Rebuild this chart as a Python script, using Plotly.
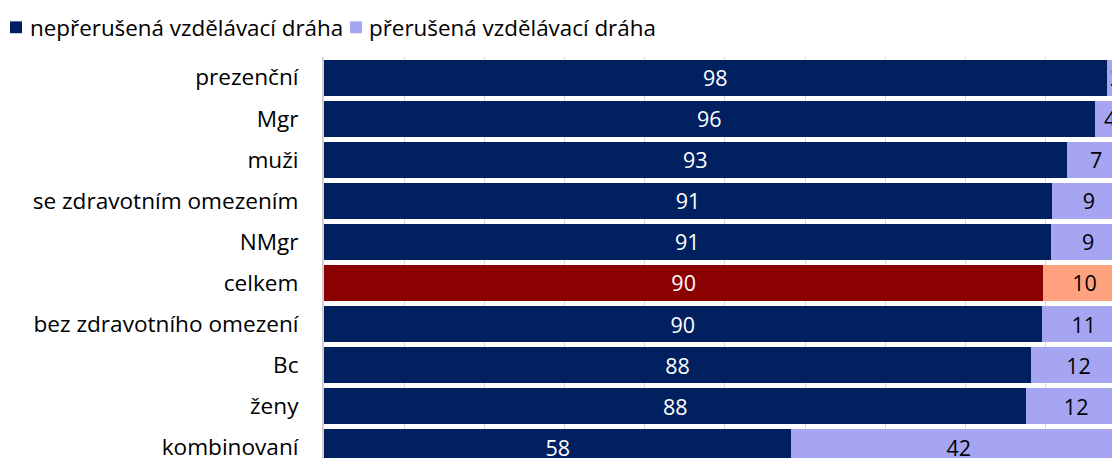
import plotly.graph_objects as go

categories = ["prezenční", "Mgr", "muži", "se zdravotním omezením", "NMgr",
              "celkem", "bez zdravotního omezení", "Bc", "ženy", "kombinovaní"]
neprerusena = [97.6, 96.1, 92.6, 90.8, 90.6, 89.7, 89.5, 88.2, 87.6, 58.3]
prerusena = [2.4, 3.9, 7.4, 9.2, 9.4, 10.3, 10.5, 11.8, 12.4, 41.7]
series_names = ["nepřerušená vzdělávací dráha", "přerušená vzdělávací dráha"]
highlight = "celkem"

NAVY, LAVENDER, RED, SALMON = "#002060", "#A5A5F2", "#8B0000", "#FFA27F"
FONT = "Open Sans"
FS = 21.5
FS_AX = 22.6
FS_LEG = 22.4

W, H = 1112, 462
ML, MT = 324, 57
PW, PH = W - ML, H - MT


def lab(v):
    return [str(int(x + 0.5)) for x in v]


def px_x(p):
    return (p - ML) / PW


def px_y(p):
    return (H - p) / PH


dark_colors = [RED if c == highlight else NAVY for c in categories]
light_colors = [SALMON if c == highlight else LAVENDER for c in categories]

fig = go.Figure()
fig.add_trace(go.Bar(
    y=categories, x=neprerusena, orientation="h", name=series_names[0],
    marker=dict(color=dark_colors, line=dict(width=0)),
    text=lab(neprerusena), textposition="inside", insidetextanchor="middle",
    textfont=dict(color="white", size=FS, family=FONT), constraintext="none",
))
fig.add_trace(go.Bar(
    y=categories, x=prerusena, orientation="h", name=series_names[1],
    marker=dict(color=light_colors, line=dict(width=0)),
    text=lab(prerusena), textposition="inside", insidetextanchor="middle",
    textfont=dict(color="black", size=FS, family=FONT), constraintext="none",
))

# legend drawn as swatches + text at the reference position
legend_items = [(series_names[0], NAVY, 10, 30), (series_names[1], LAVENDER, 350, 369)]
for name, col, sq_x, tx_x in legend_items:
    fig.add_shape(type="rect", xref="paper", yref="paper",
                  x0=px_x(sq_x), x1=px_x(sq_x + 12), y0=px_y(33), y1=px_y(21),
                  fillcolor=col, line=dict(width=0))
    fig.add_annotation(text=name, xref="paper", yref="paper", x=px_x(tx_x - 2),
                       y=px_y(27), xanchor="left", yanchor="middle", showarrow=False,
                       font=dict(size=FS_LEG, family=FONT, color="black"))

fig.update_layout(
    barmode="stack", bargap=0.125,
    width=W, height=H,
    margin=dict(l=ML, r=0, t=MT, b=0, pad=0),
    paper_bgcolor="white", plot_bgcolor="white",
    font=dict(family=FONT, size=FS, color="black"),
    showlegend=False,
)
fig.update_xaxes(range=[0, 98.27], dtick=10, showgrid=True, gridcolor="#D9D9D9",
                 gridwidth=1, showticklabels=False, zeroline=False, showline=False,
                 fixedrange=True)
fig.update_yaxes(type="category", categoryarray=categories, range=[9.26, -0.5],
                 showgrid=False, showline=True, linecolor="#D0D0D0", linewidth=2,
                 ticks="", ticklabelstandoff=19, tickfont=dict(size=FS_AX, family=FONT),
                 fixedrange=True)

fig.write_html(
    "out.html",
    config={"displayModeBar": False, "staticPlot": True},
    post_script=("document.body.style.margin='0';"
                 "document.body.style.overflow='hidden';"
                 "document.documentElement.style.overflow='hidden';"),
)
